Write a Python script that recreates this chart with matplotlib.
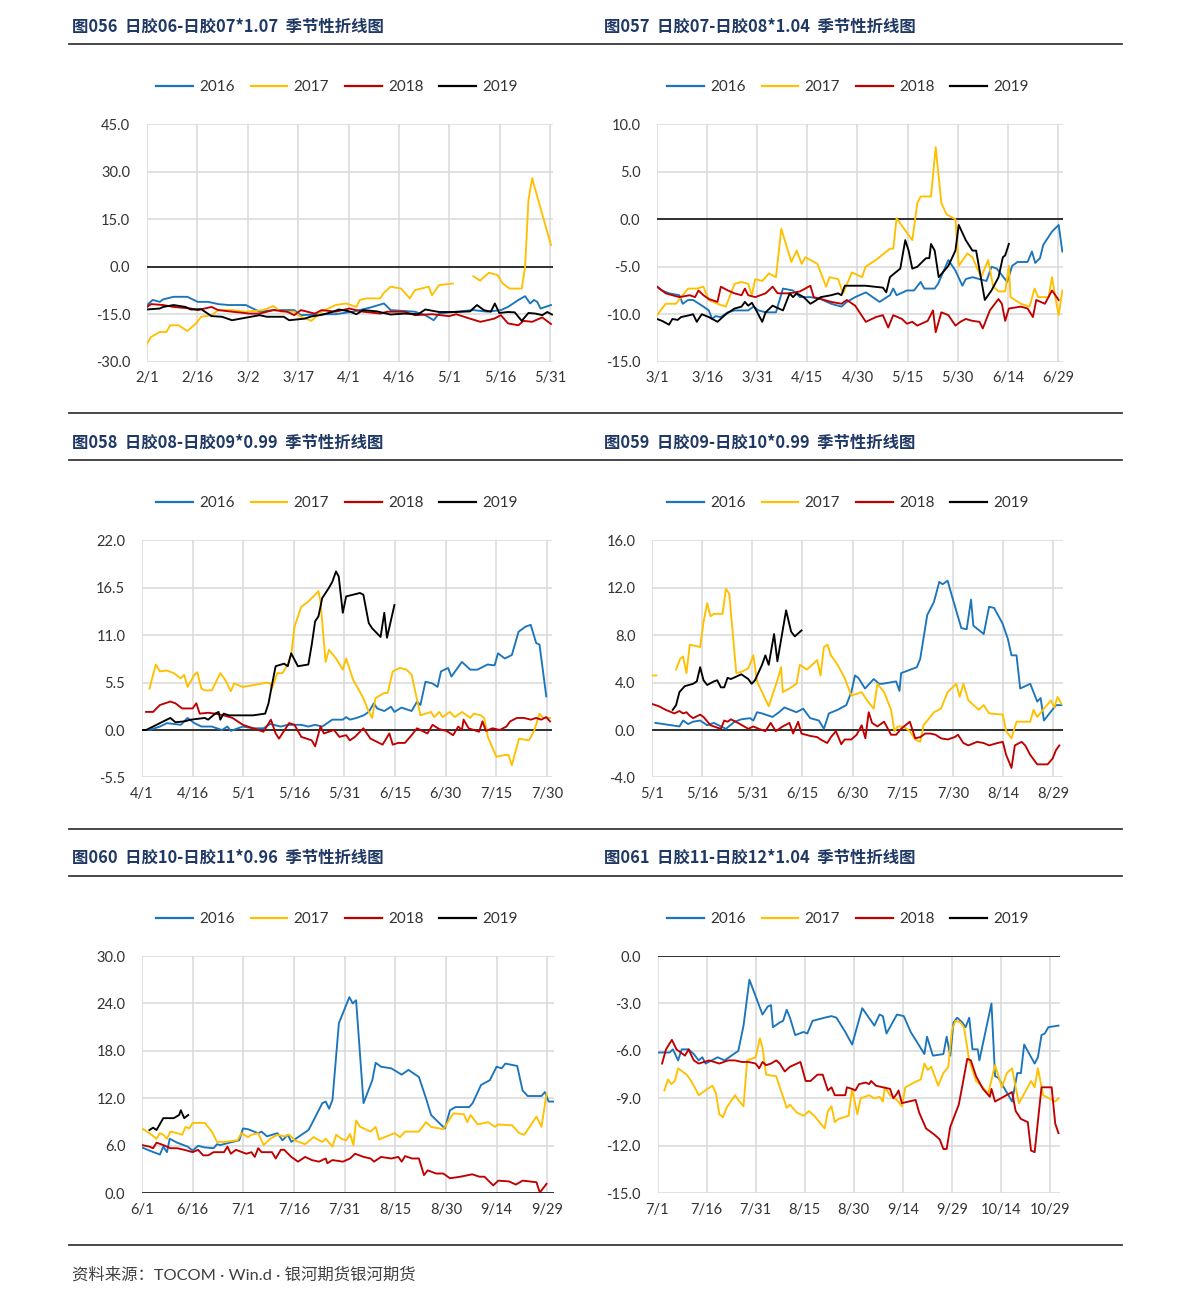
import matplotlib
matplotlib.use("Agg")
import matplotlib.pyplot as plt
from matplotlib.lines import Line2D
import numpy as np

plt.rcParams['font.family'] = ['Lato', 'Noto Sans CJK SC', 'DejaVu Sans']

W, H = 1191, 1303
YEARS = ["2016", "2017", "2018", "2019"]
COLORS = ["#1B75BC", "#FFC000", "#C00000", "#000000"]

# ---------------- 图056 日胶06-日胶07*1.07 (2/1 - 5/31) ----------------
t56 = "图056  日胶06-日胶07*1.07  季节性折线图"
x56 = ["2/1", "2/16", "3/2", "3/17", "4/1", "4/16", "5/1", "5/16", "5/31"]
y56 = [-30, -15, 0, 15, 30, 45]
s56_2016 = [(0, -12.1), (1.7, -10.5), (3.8, -11.1), (4.8, -10.3), (7.9, -9.5), (12, -9.5),
            (15.1, -11.1), (18.2, -11.1), (21.2, -11.8), (24.3, -12.1), (29.4, -12.1), (31.5, -13.2),
            (33.5, -14.2), (37.6, -13.7), (43.8, -13.7), (45.8, -15.3), (52, -15.0), (56.1, -15.0),
            (61.2, -14.2), (66.4, -12.9), (70.5, -11.6), (72.5, -13.7), (79.7, -14.2), (82.8, -15.3),
            (85.3, -16.9), (86.9, -14.8), (92, -14.2), (97.1, -13.7), (101.2, -14.2), (105.3, -13.7),
            (107.4, -12.7), (110.5, -10.5), (112.5, -9.3), (114, -11.6), (115.1, -10.5), (116.1, -11.1),
            (117.1, -13.2), (120.2, -12.1)]
s56_2017 = [(0, -24.3), (1.2, -22.2), (3.8, -20.6), (5.8, -20.6), (6.9, -18.5), (9.4, -18.5),
            (12, -20.3), (14.6, -17.9), (16.1, -15.8), (19.2, -15.3), (21.2, -13.7), (25.3, -13.7),
            (29.4, -14.2), (34.6, -13.7), (37.6, -12.4), (39.7, -14.2), (43.8, -14.2), (45.8, -15.8),
            (48.9, -17.1), (52, -14.2), (56.1, -12.1), (59.2, -11.6), (62.3, -12.7), (63.3, -10.5),
            (65.3, -10.0), (69.4, -10.0), (70.5, -8.2), (72.5, -6.3), (75.6, -6.9), (78.2, -10.0),
            (79.7, -7.4), (83.8, -6.3), (84.8, -9.0), (86.9, -5.8), (91, -5.3), (94, None),
            (97.1, -3.0), (99.1, -4.4), (101.7, -1.9), (104.3, -2.6), (105.8, -5.3), (107.9, -6.9),
            (111.5, -6.9), (112.5, 0), (113.5, 21.1), (114.6, 28.0), (116.1, 22.2), (120.2, 6.9)]
s56_2018 = [(0, -12.7), (1.2, -11.8), (4.8, -12.1), (7.9, -12.7), (13, -13.2), (15.1, -13.7),
            (19.2, -12.7), (21.2, -13.7), (25.3, -14.2), (30.5, -14.8), (33.5, -14.8), (37.6, -13.7),
            (41.7, -14.2), (43.8, -15.3), (45.8, -13.7), (49.9, -14.8), (52, -13.7), (56.1, -14.2),
            (60.2, -13.2), (64.3, -14.2), (69.4, -14.8), (71.5, -14.2), (76.6, -14.2), (79.7, -15.3),
            (84.8, -15.0), (89.9, -15.6), (92, -15.0), (96.1, -16.4), (99.2, -17.4), (103.3, -16.4),
            (105.3, -15.3), (107.4, -17.9), (110.5, -18.5), (112, -17.1), (114.6, -17.4),
            (117.6, -16.0), (120.2, -18.1)]
s56_2019 = [(0, -13.5), (3.8, -13.2), (4.8, -12.7), (7.9, -12.1), (11.5, -12.7), (13, -13.5),
            (16.1, -13.4), (19.2, -15.6), (22.3, -15.8), (25.3, -16.9), (29.4, -16.1), (33.5, -15.3),
            (35.6, -15.8), (40.7, -15.8), (42.3, -16.9), (46.9, -16.4), (48.9, -15.7), (52, -15.2),
            (55.1, -14.3), (57.1, -13.5), (60.2, -14.1), (62.3, -15.0), (64.3, -13.7), (68.4, -14.1),
            (72.5, -15.1), (76.6, -14.8), (80.7, -15.0), (82.8, -13.5), (86.9, -14.3), (92, -14.3),
            (96.1, -14.1), (98.2, -12.1), (100.2, -13.7), (102.3, -14.2), (103.5, -11.6),
            (104.8, -14.6), (107.4, -14.3), (109.4, -14.4), (111.5, -17.1), (113.5, -14.6),
            (115.6, -14.8), (117.6, -15.3), (119.1, -14.3), (120.5, -15.1)]

# ---------------- 图057 日胶07-日胶08*1.04 (3/1 - 6/29) ----------------
t57 = "图057  日胶07-日胶08*1.04  季节性折线图"
x57 = ["3/1", "3/16", "3/31", "4/15", "4/30", "5/15", "5/30", "6/14", "6/29"]
y57 = [-15, -10, -5, 0, 5, 10]
s57_2016 = [(0, -7.1), (1.5, -7.5), (3.6, -7.8), (6.7, -8.0), (7.7, -8.9), (9.3, -8.5),
            (10.8, -8.5), (13.9, -9.2), (15.5, -9.6), (16.5, -10.5), (17.5, -10.2), (19.1, -10.3),
            (21.2, -9.8), (23.2, -9.6), (27.3, -9.6), (28.9, -9.2), (30.4, -9.6), (32.5, -9.8),
            (35.6, -9.8), (37.7, -7.3), (40.7, -7.5), (42.8, -8.2), (45.9, -8.2), (49, -8.4),
            (52.1, -8.9), (55.2, -9.2), (56.8, -8.7), (59.3, -8.2), (62.5, -7.7), (66.6, -8.7),
            (69.7, -8.0), (70.7, -7.3), (71.7, -8.0), (74.8, -7.5), (76.9, -7.5), (78.9, -6.6),
            (80, -7.3), (83.1, -7.3), (84.1, -6.8), (87.2, -4.3), (89.3, -5.4), (91.4, -7.0),
            (92.4, -6.3), (94.4, -6.1), (96.5, -6.3), (98.6, -6.5), (100.1, -5.0), (101.7, -5.2),
            (104.8, -6.6), (106.3, -4.9), (107.9, -4.5), (110.9, -4.5), (112.2, -3.4), (113.2, -4.6),
            (114.6, -4.1), (115.6, -2.7), (118.2, -1.3), (120.2, -0.6), (121.3, -3.4)]
s57_2017 = [(0, -10.1), (2.6, -8.9), (5.7, -8.9), (7.2, -8.2), (9.3, -7.3), (11.9, -7.3),
            (13.9, -7.1), (15.5, -8.5), (18.1, -8.9), (20.6, -9.2), (23.2, -6.8), (25.3, -6.6),
            (27.3, -6.8), (28.4, -8.0), (29.4, -6.3), (31.5, -6.5), (33.5, -5.7), (35.6, -6.1),
            (37.2, -1.0), (40.2, -4.5), (41.8, -3.3), (43.3, -4.7), (44.4, -4.0), (48, -4.7),
            (50.6, -7.1), (51.6, -6.1), (54.2, -6.3), (55.7, -7.8), (58.3, -5.6), (61.4, -6.1),
            (62.4, -5.0), (65.5, -4.3), (69.7, -3.1), (70.7, -3.1), (71.7, 0.1), (76.4, -2.2),
            (77.9, 1.7), (78.9, 2.4), (82, 2.4), (83.4, 7.6), (85.1, 1.7), (86.7, 0.5), (89.3, 0),
            (90.3, -4.9), (92.9, -3.6), (94.4, -4.0), (97, -6.1), (99.1, -4.3), (100.6, -7.1),
            (102.2, -7.6), (104.2, -7.6), (105.3, -4.9), (105.8, -8.2), (108.9, -8.9), (111.5, -9.2),
            (113, -7.3), (114.1, -8.2), (117.2, -8.2), (118.2, -6.1), (119.2, -8.2), (120.2, -10.1),
            (121.3, -7.5)]
s57_2018 = [(0, -7.1), (2.6, -7.8), (4.6, -8.0), (6.7, -8.2), (9.8, -8.0), (11.4, -8.2),
            (12.4, -7.5), (13.9, -8.0), (15.5, -8.4), (18.1, -8.7), (19.1, -7.1), (21.2, -7.5),
            (23.2, -7.8), (25.3, -8.0), (26.3, -7.3), (27.3, -8.0), (29.4, -8.2), (32.5, -7.8),
            (34.6, -7.1), (36.1, -7.8), (39.7, -7.8), (42.8, -7.6), (45.9, -7.0), (46.9, -8.2),
            (49, -8.4), (52.1, -8.7), (55.2, -8.9), (56.8, -8.5), (59.3, -9.1), (62.5, -10.8),
            (65.5, -10.3), (67.6, -10.1), (69.2, -11.4), (70.7, -10.1), (73.3, -10.5), (74.8, -11.0),
            (76.4, -10.8), (77.9, -11.2), (81, -10.7), (82.6, -9.6), (83.4, -11.9), (85.1, -9.8),
            (87.2, -10.1), (89.3, -11.2), (90.8, -10.8), (92.4, -10.5), (94.4, -10.7), (96.5, -10.8),
            (97.5, -11.5), (99.6, -9.6), (102.2, -8.4), (103.2, -8.9), (104.2, -10.7), (105.3, -9.4),
            (108.9, -9.2), (110.9, -9.4), (112.5, -10.3), (113.5, -8.5), (116.1, -8.9), (118.2, -7.5),
            (120.2, -8.5)]
s57_2019 = [(0, -10.5), (1.5, -10.7), (3.6, -11.1), (4.6, -10.5), (6.2, -10.6), (7.2, -10.3),
            (9.8, -10.1), (10.8, -10.0), (11.9, -10.8), (13.4, -10.0), (15.5, -10.3), (18.1, -10.8),
            (20.6, -10.0), (23.2, -9.4), (25.3, -9.2), (26.3, -8.7), (27.3, -9.1), (28.4, -8.8),
            (29.4, -9.4), (31.5, -10.8), (32.5, -9.8), (34.6, -9.1), (37.7, -9.6), (39.7, -7.8),
            (40.7, -8.2), (41.8, -7.8), (43.9, -8.2), (45.9, -8.9), (46.9, -8.7), (49, -8.2),
            (52.1, -8.0), (54.2, -7.8), (55.2, -8.0), (56.2, -7.0), (58.3, -7.0), (62.4, -7.0),
            (67.6, -7.2), (68.6, -7.7), (69.7, -6.1), (70.7, -5.8), (72.8, -5.2), (74.3, -2.2),
            (75.3, -3.3), (76.4, -5.2), (77.9, -5.0), (80.5, -4.1), (81.5, -4.1), (82, -2.6),
            (83.1, -3.3), (84.3, -6.1), (87.2, -4.9), (89.3, -3.3), (90.3, -0.6), (92.4, -2.2),
            (94.4, -3.3), (95.5, -3.3), (98.1, -8.5), (100.1, -7.5), (102.2, -6.1), (103.5, -4.0),
            (104.2, -3.8), (105.3, -2.6)]

# ---------------- 图058 日胶08-日胶09*0.99 (4/1 - 7/30) ----------------
t58 = "图058  日胶08-日胶09*0.99  季节性折线图"
x58 = ["4/1", "4/16", "5/1", "5/16", "5/31", "6/15", "6/30", "7/15", "7/30"]
y58 = [-5.5, 0, 5.5, 11, 16.5, 22]
s58_2016 = [(0, 0), (2.2, 0), (5.3, 0.4), (7.4, 0.8), (9.4, 0.7), (11.5, 0.6), (13.5, 1.4),
            (15.5, 0.8), (17.6, 0.4), (20.7, 0.4), (23.7, 0), (25.3, 0.4), (26.3, -0.1), (29.9, 0.4),
            (32.9, 0.2), (36, 0.2), (38, 0.7), (41.1, 0.4), (43.2, 0.6), (47.2, 0.6), (49.3, 0.4),
            (51.3, 0.6), (53.4, 0.4), (56.4, 1.2), (59.5, 1.2), (60.5, 1.5), (61.6, 1.2), (63.6, 1.4),
            (65.7, 1.7), (67.2, 2.1), (68.7, 3.1), (69.7, 2.5), (71.8, 2.2), (73.8, 2.7), (74.8, 2.1),
            (76.9, 2.6), (79.9, 2.2), (81.5, 3.3), (82.5, 2.9), (84, 5.6), (86.1, 5.4), (87.6, 5.0),
            (88.6, 6.8), (90.7, 7.2), (91.7, 6.2), (94.8, 7.9), (97.3, 7.0), (99.4, 7.0), (102.4, 7.6),
            (104.5, 7.5), (105.5, 8.9), (107.5, 8.3), (109.6, 8.7), (111.6, 11.4), (113.7, 12.0),
            (115.2, 12.2), (116.8, 10.1), (117.8, 9.9), (119.8, 3.9)]
s58_2017 = [(2.2, 4.8), (4.1, 7.6), (5.3, 6.8), (7.4, 6.9), (9.4, 6.6), (11.5, 6.0), (12.5, 6.4),
            (13.5, 5.0), (15.5, 6.4), (16.4, 6.7), (17.6, 4.8), (18.6, 4.6), (20.7, 4.6), (23.2, 6.6),
            (24.7, 5.8), (26.3, 4.5), (27.3, 5.4), (29.9, 5.0), (32.9, 5.2), (37, 5.5), (38, 5.4),
            (38.5, 4.8), (40.1, 6.6), (41.6, 6.6), (43.2, 7.6), (44.2, 8.7), (45.2, 12.0), (47.2, 14.3),
            (49.3, 14.9), (52.3, 16.1), (52.9, 14.9), (54.4, 7.9), (55.4, 9.3), (57.5, 8.3), (59.5, 7.0),
            (60.5, 8.3), (62.6, 5.8), (65.6, 3.7), (67.2, 2.1), (68.2, 1.4), (69.2, 3.7), (71.8, 4.3),
            (72.8, 4.3), (74.3, 6.8), (76.4, 7.2), (78.4, 7.0), (79.9, 6.4), (82.5, 1.7), (85.6, 2.1),
            (86.6, 1.5), (88.1, 2.1), (89.1, 1.5), (91.2, 2.1), (92.7, 1.5), (94.8, 2.1), (97.3, 1.4),
            (98.3, 1.9), (100.4, 1.7), (101.4, 1.4), (102.5, -0.8), (105, -3.1), (107.6, -2.9),
            (108.6, -2.9), (109.6, -4.1), (111.7, -1.0), (114.7, -1.2), (116.3, 0), (117.8, 1.9),
            (118.8, 1.4), (120.9, 1.4)]
s58_2018 = [(1.2, 2.1), (3.3, 2.1), (5.3, 2.9), (8.4, 3.3), (9.9, 3.1), (11.9, 2.5), (15, 2.5),
            (16.1, 3.1), (17.1, 1.9), (19.6, 2.0), (21.7, 1.9), (24.2, 1.7), (26.8, 1.4), (29.9, 0.6),
            (32.9, 0.2), (36, -0.2), (38.2, 1.2), (39.6, -0.4), (40.6, -1.0), (43.6, 0.8), (45.2, 0.6),
            (47.2, -0.8), (50.3, -1.2), (51.3, -1.9), (52.9, 0.4), (53.9, -0.4), (56.9, 0), (58.5, -0.8),
            (60.5, -0.6), (61.6, -1.2), (63.1, -0.8), (65.6, 0.2), (67.7, -1.0), (71.3, -1.7),
            (73.3, -0.4), (74.3, -1.7), (75.9, -1.5), (77.9, -1.5), (79.9, -0.6), (81.5, 0.2), (82.5, 0),
            (84.6, -0.4), (86.1, 0.6), (88.1, 0.1), (90.2, -0.1), (92.2, -0.6), (93.7, 0.4), (94.8, 0),
            (95.3, 1.2), (96.8, 0.2), (98.3, 0), (99.9, -0.2), (100.9, 1.0), (101.9, -0.1), (103.9, 0.2),
            (106, 0), (108, 0.4), (109.1, 1.0), (111.1, 1.4), (113.2, 1.4), (115.2, 1.2), (116.8, 1.4),
            (118.3, 1.2), (119.8, 1.5), (120.9, 1.0)]
s58_2019 = [(0, 0), (1.2, 0), (3.3, 0.4), (5.3, 0.8), (8.4, 1.4), (9.9, 0.9), (12.5, 1.0),
            (14.5, 1.2), (16.6, 1.3), (18.6, 1.4), (19.6, 1.2), (21.7, 1.9), (22.7, 2.1), (23.2, 1.2),
            (24.2, 1.9), (25.8, 1.7), (29.9, 1.7), (32.9, 1.7), (36.5, 1.9), (37.5, 3.1), (38.5, 5.2),
            (39.6, 7.4), (42.1, 7.7), (43.2, 7.4), (44.2, 8.9), (46.2, 7.4), (49.3, 7.6), (50.3, 9.9),
            (51.3, 12.6), (52.3, 13.2), (53.4, 15.3), (55.4, 16.5), (56.4, 17.2), (57.5, 18.4),
            (58.3, 17.8), (59.5, 13.6), (60.5, 15.5), (64.6, 15.9), (65.6, 15.7), (67.2, 12.4),
            (68.2, 11.8), (70.7, 10.8), (71.8, 13.6), (72.6, 10.7), (74.8, 14.5)]

# ---------------- 图059 日胶09-日胶10*0.99 (5/1 - 8/29) ----------------
t59 = "图059  日胶09-日胶10*0.99  季节性折线图"
x59 = ["5/1", "5/16", "5/31", "6/15", "6/30", "7/15", "7/30", "8/14", "8/29"]
y59 = [-4, 0, 4, 8, 12, 16]
s59_2016 = [(1, 0.6), (8.2, 0.3), (9.3, 0.8), (10.8, 0.5), (12.3, 0.7), (14.4, 0.8), (16.5, 0.4),
            (18.5, 0.6), (20.6, 0.3), (22.1, 0.1), (24.7, 0.7), (26.7, 0.9), (29.3, 1.0), (30.3, 0.8),
            (31.4, 1.5), (32.9, 1.4), (36, 1.1), (38, 1.5), (39.6, 1.9), (43.2, 1.5), (45.2, 1.8),
            (47.3, 1.0), (49.9, 0.8), (51.4, 0.1), (52.9, 1.4), (55.5, 1.7), (58.1, 2.1), (59.6, 3.2),
            (60.7, 4.6), (61.7, 4.4), (63.7, 3.5), (66.3, 4.3), (67.9, 3.9), (68.9, 3.9), (73, 4.1),
            (74, 3.3), (74.5, 4.8), (79.2, 5.3), (80.2, 6.0), (82.3, 9.7), (84.3, 10.8), (85.9, 12.5),
            (86.9, 12.3), (88.4, 12.6), (89.9, 11.1), (92.5, 8.6), (94.1, 8.5), (95.4, 11.0), (96.1, 8.8),
            (99.2, 8.1), (100.8, 10.4), (102.3, 10.3), (104.8, 9.0), (106.4, 7.7), (107.5, 6.3),
            (109, 6.3), (110.1, 3.5), (113.1, 3.9), (115.2, 2.4), (116.2, 2.7), (117.2, 0.8),
            (120.8, 2.1), (122.4, 2.1)]
s59_2017 = [(0, 4.6), (1.3, 4.6), (4, None), (7.2, 5.1), (8.4, 6.0), (9.3, 6.2), (10.3, 4.8),
            (11.3, 7.2), (12.9, 7.1), (14.4, 7.0), (15.4, 9.1), (16.5, 10.7), (17.5, 9.6), (18.5, 9.8),
            (21.1, 9.8), (22.1, 11.9), (23.1, 11.5), (25.2, 4.8), (26.7, 4.9), (28.8, 5.2), (30.3, 6.3),
            (31.4, 4.1), (32.9, 3.2), (34.9, 2.0), (37.5, 4.2), (38.6, 5.3), (39.1, 3.2), (41.1, 3.5),
            (43.2, 3.9), (44.2, 5.5), (46.3, 5.1), (49.4, 5.9), (50.4, 4.6), (51.4, 7.0), (52.5, 7.2),
            (53.5, 6.3), (55.5, 5.5), (57.6, 4.4), (59.6, 2.9), (61.7, 3.1), (62.7, 3.2), (64.3, 2.5),
            (66.3, 1.8), (67.4, 3.9), (69.4, 3.2), (71.5, 1.7), (72.5, -0.1), (73.5, 0.3), (75.1, 0.3),
            (77.1, -0.1), (78.7, -0.8), (80.2, -1.0), (81.2, 0.4), (84.3, 1.5), (86.4, 1.8), (88.4, 3.2),
            (91, 3.9), (92, 2.8), (93.1, 3.9), (94.6, 2.5), (97.7, 1.7), (99.2, 2.1), (100.8, 1.4),
            (104.9, 1.3), (105.9, -0.1), (107.5, -0.7), (109, 0.7), (111.1, 0.7), (113.1, 0.7),
            (114.1, 1.7), (115.2, 1.1), (117.2, 1.8), (119.3, 2.5), (120.3, 1.9), (121.3, 2.8),
            (122.4, 2.2)]
s59_2018 = [(0, 2.2), (2.1, 2.0), (4.1, 1.7), (6.7, 1.4), (8.2, 1.6), (9.3, 1.4), (10.3, 1.5),
            (11.3, 1.2), (12.3, 1.0), (14.4, 1.3), (15.4, 1.1), (17.5, 0.4), (19.5, 0.2), (20.6, 0.1),
            (21.6, 0.8), (22.6, 0.7), (23.6, 0.9), (25.7, 0.6), (28.8, 0.1), (30.3, 0.3), (31.9, 0.1),
            (33.9, -0.1), (35.5, 0.6), (37, -0.1), (39.1, 0.3), (41.1, 0.6), (42.2, -0.3), (43.7, 0.7),
            (44.7, -0.3), (47.3, -0.5), (49.4, -0.6), (50.4, -0.8), (52.4, -1.1), (53.5, -0.6),
            (55, -0.1), (56.6, -1.2), (57.6, -0.8), (59.6, -0.8), (61.2, -0.4), (62.7, 0.4), (63.8, -0.7),
            (64.8, 1.5), (65.8, 0.6), (67.4, 0.3), (69.4, 0.7), (71.5, -0.4), (73, -0.4), (74.5, 0.1),
            (77.1, 0.7), (78.7, -0.7), (80.2, -0.6), (81.7, -0.3), (83.3, -0.3), (84.8, -0.4),
            (86.4, -0.7), (88.4, -0.8), (90.5, -0.6), (91.5, -0.4), (93.1, -1.1), (94.6, -1.3),
            (97.2, -1.0), (99.2, -1.1), (100.8, -1.3), (103.3, -1.1), (104.9, -1.0), (105.9, -2.1),
            (107.5, -3.2), (108.5, -1.3), (110.5, -1.0), (111.6, -1.3), (113.1, -2.1), (115.2, -2.9),
            (118.3, -2.9), (119.8, -2.4), (120.8, -1.7), (121.8, -1.3)]
s59_2019 = [(6.2, 1.7), (7.2, 2.1), (8.2, 3.2), (9.8, 3.7), (12.3, 3.9), (13.4, 4.1), (14.4, 5.3),
            (15.4, 4.2), (16.5, 3.8), (18.5, 4.1), (19.5, 4.2), (20.6, 3.6), (21.6, 3.6), (22.6, 4.4),
            (23.6, 4.3), (26.7, 4.7), (28.8, 4.3), (29.8, 3.9), (30.8, 4.2), (32.9, 5.5), (33.9, 6.3),
            (34.9, 5.5), (36.5, 8.1), (37.5, 5.8), (40.1, 10.1), (41.6, 8.3), (42.7, 7.9), (44.7, 8.4)]

# ---------------- 图060 日胶10-日胶11*0.96 (6/1 - 9/29) ----------------
t60 = "图060  日胶10-日胶11*0.96  季节性折线图"
x60 = ["6/1", "6/16", "7/1", "7/16", "7/31", "8/15", "8/30", "9/14", "9/29"]
y60 = [0, 6, 12, 18, 24, 30]
s60_2016 = [(0, 5.8), (2.2, 5.4), (5.3, 4.9), (6.3, 5.9), (7.4, 5.2), (8.2, 6.9), (10.4, 6.4),
            (13.5, 5.9), (15, 5.4), (16.6, 6.0), (18.6, 5.8), (21.2, 5.7), (22.2, 6.2), (23.2, 6.1),
            (26.8, 6.5), (28.8, 6.7), (29.9, 8.2), (31.4, 8.1), (34.4, 7.6), (35.4, 7.8), (37, 7.2),
            (40.1, 7.6), (41.6, 6.7), (43.2, 7.4), (44.2, 6.5), (46.2, 7.1), (49.3, 8.0), (50.3, 8.8),
            (53.4, 11.4), (54.4, 11.6), (55.4, 10.7), (56.4, 11.8), (58.3, 21.5), (61.4, 24.8),
            (62.4, 24.0), (63.4, 24.4), (65.6, 11.4), (68.2, 14.3), (69.2, 16.5), (70.8, 16.0),
            (73.8, 15.8), (76.9, 15.0), (78.9, 15.6), (82, 14.7), (84.1, 12.0), (85.6, 9.9), (88.7, 8.6),
            (89.7, 8.2), (91.2, 10.5), (92.8, 10.9), (96.9, 10.9), (97.9, 11.4), (100.4, 13.7),
            (103, 14.3), (105, 16.0), (106.5, 15.8), (107.6, 16.4), (111.1, 16.1), (112.7, 13.0),
            (114.2, 12.3), (118.3, 12.3), (119.3, 12.8), (120.4, 11.6), (121.9, 11.6)]
s60_2017 = [(0, 8.2), (2.2, 7.6), (4.3, 6.9), (5.3, 7.6), (6.3, 7.4), (7.4, 6.9), (8.4, 7.8),
            (10.4, 7.6), (11.9, 7.4), (12.9, 8.4), (14, 8.2), (15, 8.9), (18.6, 8.9), (20.7, 7.8),
            (22.2, 6.5), (24.7, 6.5), (28.3, 6.7), (29.4, 7.6), (31.4, 7.1), (32.4, 7.4), (34.4, 7.6),
            (36, 6.1), (38, 6.9), (40.1, 7.4), (42.1, 7.2), (43.6, 7.4), (45.2, 6.7), (48.3, 6.2),
            (50.8, 7.1), (53.4, 6.5), (54.4, 6.9), (56.4, 5.9), (57.5, 7.4), (59, 6.9), (60.5, 6.7),
            (61.6, 7.5), (62.6, 6.1), (63.4, 9.2), (64.6, 8.4), (67.7, 7.8), (69.2, 8.4), (70.2, 6.8),
            (71.8, 7.1), (74.8, 7.6), (76.4, 7.1), (77.9, 7.8), (82, 7.8), (84.1, 9.0), (85.6, 8.4),
            (89.2, 8.1), (92.2, 10.1), (95.3, 10.0), (96.3, 9.0), (97.3, 9.9), (99.4, 8.7), (102.5, 9.0),
            (104.5, 8.4), (105.5, 8.7), (109.6, 8.6), (111.7, 7.6), (113.2, 7.4), (116.8, 9.7),
            (118.3, 8.4), (119.8, 12.6)]
s60_2018 = [(0, 6.1), (2.2, 5.9), (3.3, 5.7), (4.3, 6.4), (6.3, 6.1), (8.4, 5.7), (10.4, 5.7),
            (12.5, 5.5), (15, 5.2), (16.6, 5.5), (18.1, 4.8), (19.6, 4.8), (21.2, 5.2), (22.7, 5.2),
            (24.3, 5.2), (25.3, 5.9), (26.3, 5.0), (27.8, 5.5), (30.9, 5.0), (32.4, 5.2), (33.4, 4.6),
            (34.4, 5.7), (35.4, 5.2), (38.5, 5.2), (39.6, 4.4), (41.1, 5.5), (42.1, 5.5), (44.2, 4.6),
            (46.2, 4.0), (48.3, 4.6), (50.3, 4.2), (52.4, 4.0), (54.4, 4.4), (54.9, 3.8), (56.4, 4.2),
            (59.5, 4.0), (61.6, 4.4), (63.1, 5.0), (65.6, 4.6), (67.7, 4.4), (68.7, 4.0), (70.8, 4.6),
            (73.8, 4.4), (75.9, 4.6), (76.9, 4.0), (77.9, 4.7), (80, 4.4), (82, 4.4), (83.5, 2.3),
            (84.6, 2.9), (87.1, 2.5), (89.2, 2.5), (91.2, 1.9), (94.3, 2.1), (97.8, 2.4), (99.9, 2.1),
            (101.4, 2.1), (104, 1.0), (105.5, 1.6), (108.7, 1.5), (110.7, 1.1), (112.7, 1.6),
            (116.8, 1.4), (117.8, 0.1), (119.8, 1.2)]
s60_2019 = [(2.2, 8.0), (3.3, 8.3), (4.3, 8.0), (6.3, 9.5), (9.4, 9.5), (11, 9.9), (11.5, 10.5),
            (12.5, 9.5), (13.7, 9.9)]

# ---------------- 图061 日胶11-日胶12*1.04 (7/1 - 10/29) ----------------
t61 = "图061  日胶11-日胶12*1.04  季节性折线图"
x61 = ["7/1", "7/16", "7/31", "8/15", "8/30", "9/14", "9/29", "10/14", "10/29"]
y61 = [-15, -12, -9, -6, -3, 0]
s61_2016 = [(0, -6.1), (3.7, -6.1), (4.7, -5.9), (6.3, -6.6), (7.4, -5.9), (9.5, -5.9), (11.1, -6.2),
            (12.6, -6.6), (13.7, -6.4), (14.7, -6.8), (18.4, -6.4), (20.5, -6.6), (24.7, -6.0),
            (26.3, -4.4), (28.1, -1.5), (32.1, -3.7), (33.7, -3.2), (34.7, -3.1), (35.3, -4.5),
            (37.4, -4.2), (38.4, -4.1), (39.5, -3.4), (40.5, -3.9), (42.1, -5.0), (44.7, -4.8),
            (45.8, -4.9), (47.4, -4.1), (51.1, -3.9), (53.2, -3.8), (54.7, -3.9), (57.4, -4.8),
            (59.5, -5.6), (62.6, -3.3), (66.3, -4.4), (67.9, -3.7), (68.9, -3.8), (70, -4.9),
            (73.2, -3.7), (75.3, -3.8), (77.4, -4.8), (81.6, -6.2), (82.4, -5.1), (84.2, -6.3),
            (87.4, -6.2), (88.4, -5.1), (89.5, -6.3), (90.5, -4.2), (91.6, -3.9), (93.2, -4.2),
            (94.2, -4.5), (95.3, -3.9), (96.3, -5.9), (97.9, -5.9), (98.4, -6.6), (102.1, -3.0),
            (103.2, -7.6), (104.2, -7.7), (105.3, -8.1), (108.4, -9.2), (110, -7.4), (111.1, -7.4),
            (112.1, -5.6), (115.3, -6.8), (116.3, -6.4), (117.4, -5.0), (118.4, -4.9), (119.5, -4.5),
            (122.6, -4.4)]
s61_2017 = [(2.1, -8.5), (3.2, -7.8), (4.2, -8.1), (5.3, -7.9), (6.3, -7.1), (8.9, -7.5), (10, -7.8),
            (11.1, -8.2), (12.6, -8.8), (15.3, -8.4), (16.8, -8.2), (17.9, -8.7), (18.9, -10.0),
            (20, -10.2), (21.1, -9.6), (23.7, -8.8), (24.7, -9.1), (26.3, -9.5), (27.4, -6.6),
            (30, -6.4), (31.3, -5.2), (32.1, -5.8), (33.2, -7.5), (36.3, -7.6), (37.4, -8.3),
            (39.5, -9.6), (40.5, -9.4), (42.6, -9.9), (44.7, -10.1), (46.3, -9.8), (47.9, -10.1),
            (51.1, -10.9), (52.1, -9.8), (53.2, -9.5), (54.2, -10.5), (55.3, -10.3), (58.4, -10.1),
            (59.5, -8.4), (61.1, -10.0), (62.1, -9.0), (64.7, -8.8), (66.3, -9.0), (67.9, -8.9),
            (68.9, -9.2), (69.5, -8.3), (71.1, -8.8), (73.2, -9.1), (74.7, -9.5), (75.8, -8.3),
            (78.4, -8.0), (79.5, -7.9), (80.5, -7.8), (81.6, -6.8), (82.6, -7.2), (83.7, -7.0),
            (85.8, -8.2), (87.4, -7.4), (88.9, -7.0), (90, -4.7), (91.1, -4.1), (92.6, -4.2),
            (93.7, -4.5), (95.3, -6.6), (97.4, -7.9), (99.5, -8.3), (101.1, -8.7), (103.2, -6.9),
            (105.3, -8.3), (106.8, -7.4), (108.4, -7.1), (109.5, -8.3), (110.5, -9.3), (112.1, -8.7),
            (114.2, -7.9), (115.3, -8.3), (116.3, -7.1), (117.9, -8.8), (121.6, -9.2), (122.6, -9.0)]
s61_2018 = [(1.4, -6.8), (2.6, -5.9), (4.4, -5.3), (5.8, -5.9), (8.4, -6.3), (9.5, -5.9), (11.1, -6.6),
            (12.6, -6.8), (14.2, -6.7), (15.8, -6.6), (17.4, -6.7), (18.9, -6.8), (21.6, -6.6),
            (23.7, -6.6), (25.8, -6.7), (27.9, -6.7), (30, -6.8), (31.1, -7.1), (32.1, -6.7),
            (33.2, -6.9), (34.7, -6.8), (36.3, -6.6), (37.4, -6.8), (38.9, -7.3), (40.5, -7.0),
            (43.7, -6.7), (45.3, -7.9), (46.8, -7.9), (48.9, -7.5), (50.5, -7.5), (52.1, -8.5),
            (53.2, -8.3), (54.2, -8.8), (57.4, -8.8), (57.9, -8.3), (59.5, -8.4), (60.5, -8.5),
            (61.6, -8.1), (63.7, -8.0), (64.7, -8.1), (65.3, -7.9), (66.8, -8.2), (68.9, -8.3),
            (71.1, -8.4), (72.1, -9.0), (73.2, -8.7), (73.7, -8.5), (74.7, -9.3), (78.9, -9.1),
            (80, -9.9), (82.1, -10.9), (84.7, -11.3), (86.3, -11.6), (87.4, -12.2), (88.4, -12.2),
            (89.5, -10.8), (92.1, -9.4), (93.2, -8.2), (94.7, -6.5), (95.8, -6.6), (97.4, -7.6),
            (99.5, -8.4), (101.6, -8.9), (102.1, -8.4), (103.2, -9.2), (105.8, -8.9), (108.4, -8.6),
            (109.5, -9.8), (111.1, -10.3), (113.2, -10.5), (114.2, -12.3), (115.3, -12.4),
            (117.4, -8.3), (120.5, -8.3), (121.6, -10.6), (122.6, -11.2)]
s61_2019 = []

SOURCE = "资料来源：TOCOM · Win.d · 银河期货银河期货"


def draw_panel(fig, box, xmax, title, title_xy, legend_xy, xlabels, yticks, series):
    left, right, top, bottom = box
    ax = fig.add_axes([left / W, 1 - bottom / H, (right - left) / W, (bottom - top) / H])
    for color, pts in zip(COLORS, series):
        if not pts:
            continue
        days = [p[0] for p in pts]
        vals = [np.nan if p[1] is None else p[1] for p in pts]
        ax.plot(days, vals, color=color, lw=1.35, solid_joinstyle="round", zorder=4)
    ax.axhline(0, color="black", lw=1.1, zorder=3)
    ax.set_xlim(0, xmax)
    ax.set_ylim(yticks[0], yticks[-1])
    ax.set_xticks(np.arange(0, 121, 15))
    ax.set_xticklabels(xlabels)
    ax.set_yticks(yticks)
    ax.set_yticklabels([f"{t:.1f}" for t in yticks])
    ax.grid(color="#D9D9D9", lw=1.1, zorder=0)
    ax.set_axisbelow(True)
    for s in ax.spines.values():
        s.set_visible(False)
    ax.tick_params(axis="both", length=0, labelsize=10.5, colors="#333333")
    ax.tick_params(axis="y", pad=12)
    ax.tick_params(axis="x", pad=7)

    fig.text(title_xy[0] / W, 1 - title_xy[1] / H, title, fontsize=11.8, fontweight="bold",
             color="#1F3864", va="center", ha="left", family=["Noto Sans CJK SC"])

    handles = [Line2D([], [], color=c, lw=1.6) for c in COLORS]
    fig.legend(handles, YEARS, loc="center", ncol=4, frameon=False,
               bbox_to_anchor=(legend_xy[0] / W, 1 - legend_xy[1] / H),
               fontsize=11, handlelength=2.4, handletextpad=0.4, columnspacing=1.05,
               labelcolor="#333333")
    return ax


fig = plt.figure(figsize=(W / 100, H / 100), dpi=100)

draw_panel(fig, (147, 553, 124.3, 361.7), 120.8, t56, (72, 27), (337, 87), x56, y56,
           [s56_2016, s56_2017, s56_2018, s56_2019])
draw_panel(fig, (657, 1063, 124.3, 361.7), 121.5, t57, (604, 27), (848, 87), x57, y57,
           [s57_2016, s57_2017, s57_2018, s57_2019])
draw_panel(fig, (142, 552, 540.4, 777.4), 121.5, t58, (72, 443), (337, 503), x58, y58,
           [s58_2016, s58_2017, s58_2018, s58_2019])
draw_panel(fig, (652, 1063, 540.4, 777.4), 122.9, t59, (604, 443), (848, 503), x59, y59,
           [s59_2016, s59_2017, s59_2018, s59_2019])
draw_panel(fig, (142, 554, 956, 1193.3), 122, t60, (72, 858), (337, 919), x60, y60,
           [s60_2016, s60_2017, s60_2018, s60_2019])
draw_panel(fig, (657.5, 1059.5, 956, 1193.3), 122.9, t61, (604, 858), (848, 919), x61, y61,
           [s61_2016, s61_2017, s61_2018, s61_2019])

# section rules
for y in [44, 413, 460, 829, 876, 1245]:
    fig.add_artist(Line2D([69 / W, 1122 / W], [1 - y / H, 1 - y / H], color="#3A3A3A", lw=1.3))

fig.text(72 / W, 1 - 1275 / H, SOURCE, fontsize=11.8, color="#404040", va="center", ha="left",
         family=["Lato", "Noto Sans CJK SC"])

fig.savefig("out.png", dpi=100, facecolor="white")
